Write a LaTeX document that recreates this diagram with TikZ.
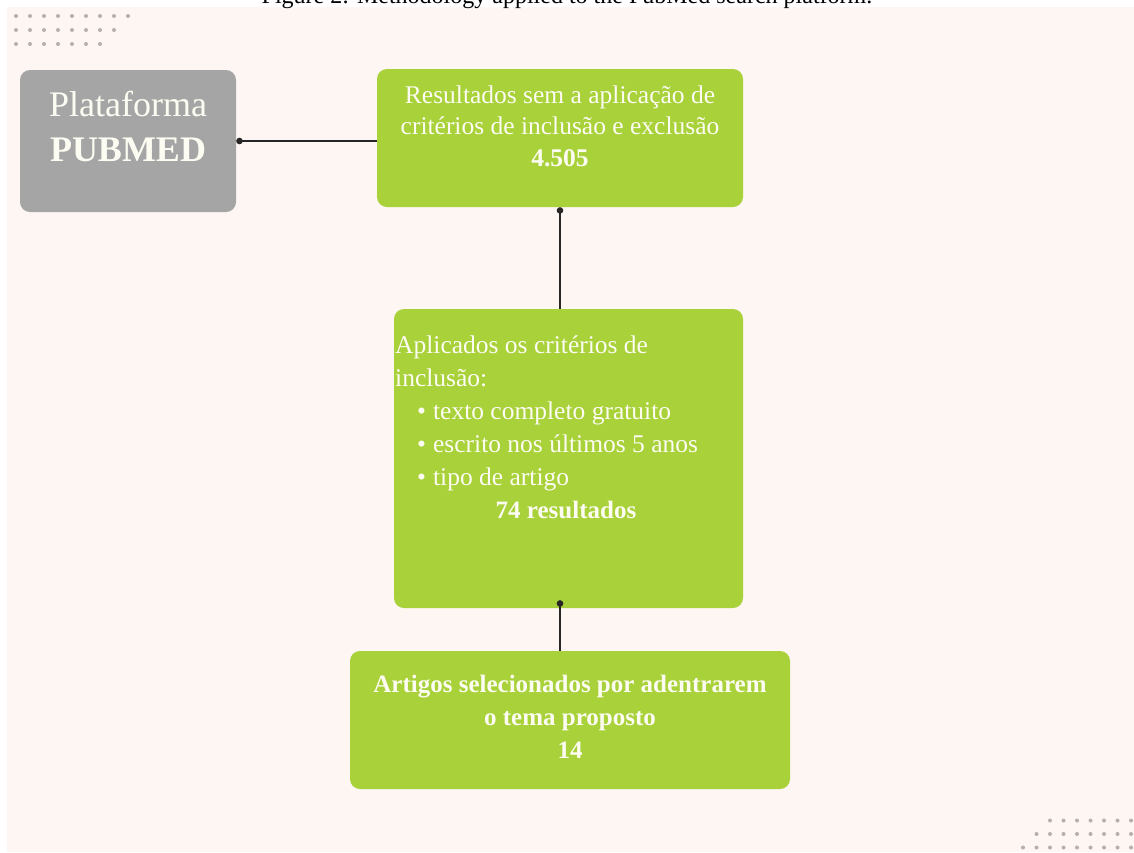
\documentclass[tikz,border=0pt]{standalone}
\usepackage{fontspec}
\setmainfont{Liberation Serif}
\usetikzlibrary{arrows.meta}
\definecolor{pagebg}{HTML}{FDF6F3}
\definecolor{boxgreen}{HTML}{A9D13A}
\definecolor{boxgrey}{HTML}{A5A5A5}
\definecolor{boxtext}{HTML}{FCFCF2}
\definecolor{dotgrey}{HTML}{B4B0AE}

\begin{document}
\begin{tikzpicture}[x=1pt, y=-1pt,
    box/.style={rectangle, rounded corners=10pt, inner sep=0pt},
    greybox/.style={box, fill=boxgrey},
    greenbox/.style={box, fill=boxgreen},
    boxlabel/.style={text=boxtext, font=\fontsize{25.5}{31.5}\selectfont, align=center, anchor=base, inner sep=2pt},
    link/.style={{Circle[length=6.5pt]}-, line width=1.2pt, draw=black!85}]

            \path[use as bounding box, clip] (0, 0) rectangle (1134, 852);
            \fill[pagebg] (7, 7) rectangle (1134, 852);

            \node (caption) at (567, 3.5) [anchor=base, font=\fontsize{24}{28}\selectfont] {Figure 2: Methodology applied to the PubMed search platform.};

            %Dots in the two corners.
            \foreach \row/\n in {0/8, 1/7, 2/6}
                \foreach \i in {0,...,\n}
                    \fill[dotgrey] (16 + 14*\i, 16 + 14*\row) circle (2);
            \foreach \row in {0, 1, 2}
                \foreach \i in {0,...,8}
                    \fill[dotgrey] (1050 - 13.5*\row + 13.5*\i, 820.5 + 13.5*\row) circle (2);

            \node (pub) at (128, 141) [greybox, minimum width=216pt, minimum height=142pt] {};
            \node (res) at (560, 138) [greenbox, minimum width=366pt, minimum height=138pt] {};
            \node (crit) at (568.5, 458.5) [greenbox, minimum width=349pt, minimum height=299pt] {};
            \node (sel) at (570, 720) [greenbox, minimum width=440pt, minimum height=138pt] {};

            %base of a multi-line label is its last line
            \node (pubtext) at (128, 161.5) [boxlabel, font=\fontsize{36}{45}\selectfont] {Plataforma\\\textbf{PUBMED}};
            \node (restext) at (560, 166) [boxlabel] {Resultados sem a aplicação de\\critérios de inclusão e exclusão\\\textbf{4.505}};
            \node (crittext) at (393, 485) [boxlabel, align=left, anchor=base west, font=\fontsize{25.5}{33}\selectfont] {Aplicados os critérios de\\inclusão:\\\hspace*{22pt}\textbullet\hspace{7pt}texto completo gratuito\\\hspace*{22pt}\textbullet\hspace{7pt}escrito nos últimos 5 anos\\\hspace*{22pt}\textbullet\hspace{7pt}tipo de artigo};
            \node (crittotal) at (566, 518) [boxlabel, font=\bfseries\fontsize{25}{33}\selectfont] {74 resultados};
            \node (seltext) at (570, 758) [boxlabel, font=\bfseries\fontsize{25}{33}\selectfont] {Artigos selecionados por adentrarem\\o tema proposto\\14};

            \draw[link] (pub.east) to (pub.east -| res.west);
            \draw[link] (res.south) to (res.south |- crit.north);
            \draw[link] ([yshift=8pt]crit.south -| res.south) to (res.south |- sel.north);
        \end{tikzpicture}
\end{document}
